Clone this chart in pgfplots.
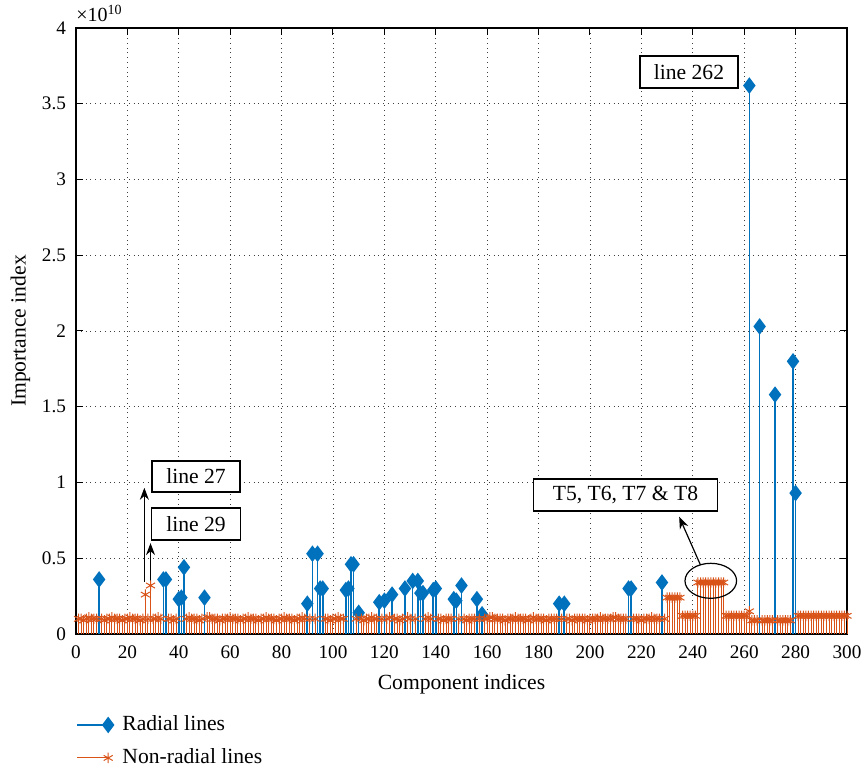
\documentclass[border=0pt]{standalone}
\usepackage{fontspec}
\setmainfont{Liberation Serif}
\usepackage{pgfplots}
\pgfplotsset{compat=1.18}
\usetikzlibrary{arrows.meta}
\definecolor{mblue}{rgb}{0,0.447,0.741}
\definecolor{morange}{rgb}{0.85,0.325,0.098}
\pgfplotsset{endmark/.style={legend image code/.code={\draw[##1, sharp plot, mark repeat=2, mark phase=2] plot coordinates {(0pt,0pt) (15.5pt,0pt)};}}}
\begin{document}
\begin{tikzpicture}
\begin{axis}[
  scale only axis, width=385.5pt, height=303pt,
  xmin=0, xmax=300, ymin=0, ymax=4,
  xtick={0,20,...,300},
  ytick={0,0.5,1,1.5,2,2.5,3,3.5,4},
  yticklabels={0,0.5,1,1.5,2,2.5,3,3.5,4},
  /pgf/number format/assume math mode=true,
  ticklabel style={font=\fontsize{9.6}{11}\selectfont},
  xticklabel shift=2.5pt, yticklabel shift=1.5pt,
  tick align=inside, major tick length=3.5pt,
  xtick pos=both, ytick pos=both,
  tick style={black, line width=0.5pt},
  axis line style={black, line width=0.6pt},
  grid=major, grid style={dotted, black!75, line width=0.45pt},
  xlabel={Component indices}, ylabel={Importance index},
  xlabel style={at={(axis description cs:0.5,-0.0825)}, anchor=center, font=\fontsize{10.8}{12}\selectfont},
  ylabel style={at={(axis description cs:-0.072,0.5)}, anchor=center, font=\fontsize{10.8}{12}\selectfont},
  legend style={at={(axis description cs:0.0,-0.128)}, anchor=north west, draw=none, fill=none,
    font=\fontsize{10.8}{12}\selectfont, row sep=3.5pt, column sep=2.5pt, inner sep=0pt},
  legend cell align=left,
  clip=false,
]
\addplot[ycomb, color=mblue, line width=0.8pt, mark=diamond*, mark size=3.5pt, mark options={solid, fill=mblue}, endmark]
coordinates {
(9,0.36) (34,0.36) (35,0.36) (40,0.23) (41,0.24) (42,0.44) (50,0.24)
(90,0.20) (92,0.53) (94,0.53) (95,0.30) (96,0.30) (105,0.29) (106,0.30) (107,0.46) (108,0.46)
(110,0.14) (118,0.21) (120,0.22) (123,0.26) (128,0.30) (131,0.35) (133,0.35) (134,0.27) (135,0.27)
(139,0.29) (140,0.30) (147,0.23) (148,0.22) (150,0.32) (156,0.23) (158,0.13)
(188,0.20) (190,0.20) (215,0.30) (216,0.30) (228,0.34)
(262,3.62) (266,2.03) (272,1.58) (279,1.80) (280,0.93)
};
\addlegendentry{Radial lines}
\addplot[ycomb, color=morange, line width=0.5pt, mark=asterisk, mark size=2.6pt, mark options={solid}, endmark]
coordinates {
(1,0.10) (2,0.10) (3,0.09) (4,0.10) (5,0.11) (6,0.10) (7,0.10) (8,0.10) (10,0.10) (11,0.09) (12,0.10)
(13,0.10) (14,0.11) (15,0.10) (16,0.10) (17,0.10) (18,0.09) (19,0.10) (20,0.10) (21,0.11) (22,0.10)
(23,0.10) (24,0.10) (25,0.09) (26,0.10) (27,0.26) (28,0.10) (29,0.32) (30,0.10) (31,0.10) (32,0.11) (33,0.10)
(36,0.10) (37,0.10) (38,0.09) (39,0.10)
(43,0.10) (44,0.11) (45,0.10) (46,0.10) (47,0.10) (48,0.09) (49,0.10)
(51,0.11) (52,0.11) (53,0.10) (54,0.10) (55,0.10) (56,0.09) (57,0.10) (58,0.10) (59,0.10) (60,0.11)
(61,0.10) (62,0.10) (63,0.10) (64,0.09) (65,0.10) (66,0.10) (67,0.11) (68,0.10) (69,0.10) (70,0.10)
(71,0.09) (72,0.10) (73,0.10) (74,0.11) (75,0.10) (76,0.10) (77,0.10) (78,0.09) (79,0.10) (80,0.10)
(81,0.11) (82,0.10) (83,0.10) (84,0.10) (85,0.09) (86,0.10) (87,0.10) (88,0.11) (89,0.10)
(91,0.10) (93,0.10)
(97,0.10) (98,0.10) (99,0.09) (100,0.10) (101,0.10) (102,0.11) (103,0.10) (104,0.10)
(109,0.10)
(111,0.10) (112,0.09) (113,0.10) (114,0.10) (115,0.11) (116,0.10) (117,0.10)
(119,0.10) (121,0.10) (122,0.11)
(124,0.10) (125,0.10) (126,0.09) (127,0.10) (129,0.11) (130,0.10) (132,0.10)
(136,0.10) (137,0.11) (138,0.10)
(141,0.10) (142,0.10) (143,0.09) (144,0.10) (145,0.10) (146,0.10) (149,0.10)
(151,0.10) (152,0.09) (153,0.10) (154,0.10) (155,0.10) (157,0.10)
(159,0.10) (160,0.10) (161,0.11) (162,0.11) (163,0.10) (164,0.10) (165,0.10) (166,0.10) (167,0.09)
(168,0.10) (169,0.10) (170,0.10) (171,0.11) (172,0.10) (173,0.10) (174,0.10) (175,0.10) (176,0.09)
(177,0.10) (178,0.11) (179,0.10) (180,0.10) (181,0.10) (182,0.10) (183,0.09) (184,0.10) (185,0.10)
(186,0.10) (187,0.10) (189,0.10)
(191,0.10) (192,0.10) (193,0.09) (194,0.10) (195,0.10) (196,0.10) (197,0.10) (198,0.10) (199,0.09)
(200,0.10) (201,0.10) (202,0.10) (203,0.10) (204,0.11) (205,0.10) (206,0.10) (207,0.10) (208,0.10)
(209,0.11) (210,0.11) (211,0.10) (212,0.10) (213,0.10) (214,0.10)
(217,0.10) (218,0.10) (219,0.10) (220,0.09) (221,0.10) (222,0.10) (223,0.10) (224,0.11) (225,0.10)
(226,0.10) (227,0.10) (229,0.10)
(230,0.24) (231,0.24) (232,0.24) (233,0.24) (234,0.24) (235,0.24)
(236,0.12) (237,0.12) (238,0.12) (239,0.12) (240,0.12) (241,0.12)
(242,0.34) (243,0.34) (244,0.34) (245,0.34) (246,0.34) (247,0.34) (248,0.34) (249,0.34) (250,0.34)
(251,0.34) (252,0.34)
(253,0.12) (254,0.12) (255,0.12) (256,0.12) (257,0.12) (258,0.12) (259,0.12) (260,0.12) (261,0.12)
(262,0.15)
(263,0.09) (264,0.09) (265,0.09) (267,0.09) (268,0.09) (269,0.09) (270,0.09) (271,0.09)
(273,0.09) (274,0.09) (275,0.09) (276,0.09) (277,0.09) (278,0.09)
(281,0.12) (282,0.12) (283,0.12) (284,0.12) (285,0.12) (286,0.12) (287,0.12) (288,0.12) (289,0.12)
(290,0.12) (291,0.12) (292,0.12) (293,0.12) (294,0.12) (295,0.12) (296,0.12) (297,0.12) (298,0.12)
(299,0.12) (300,0.12)
};
\addlegendentry{Non-radial lines}
% annotations
\node[draw=black, fill=white, line width=0.6pt, minimum width=49pt, minimum height=16pt, inner sep=1pt,
  font=\fontsize{10.8}{12}\selectfont] at (axis cs:238.5,3.71) {line 262};
\node[draw=black, fill=white, line width=0.6pt, minimum width=44pt, minimum height=15.5pt, inner sep=1pt,
  font=\fontsize{10.8}{12}\selectfont] at (axis cs:46.7,1.04) {line 27};
\node[draw=black, fill=white, line width=0.6pt, minimum width=44.5pt, minimum height=16pt, inner sep=1pt,
  font=\fontsize{10.8}{12}\selectfont] at (axis cs:46.7,0.726) {line 29};
\node[draw=black, fill=white, line width=0.6pt, minimum width=92pt, minimum height=16pt, inner sep=1pt,
  font=\fontsize{10.8}{12}\selectfont] at (axis cs:213.8,0.917) {T5, T6, T7 \& T8};
\draw[black, line width=0.6pt, -{Stealth[length=6pt,width=4.5pt]}] (axis cs:26.6,0.345) -- (axis cs:26.6,0.965);
\draw[black, line width=0.6pt, -{Stealth[length=6pt,width=4.5pt]}] (axis cs:29.0,0.345) -- (axis cs:29.0,0.60);
\draw[black, line width=0.6pt, -{Stealth[length=6pt,width=4.5pt]}] (axis cs:243.0,0.455) -- (axis cs:234.7,0.774);
\draw[black, line width=0.6pt] (axis cs:247,0.351) ellipse [x radius=12.9pt, y radius=8.75pt];
\node[anchor=south west, inner sep=0pt, font=\fontsize{10}{12}\selectfont] at ([shift={(0pt,3pt)}]rel axis cs:0,1) {×10\textsuperscript{10}};
\coordinate (SW) at (rel axis cs:0,0);
\coordinate (NE) at (rel axis cs:1,1);
\end{axis}
\pgfresetboundingbox
\useasboundingbox ([shift={(-38pt,-67.5pt)}]SW) rectangle ([shift={(7.5pt,14pt)}]NE);
\end{tikzpicture}
\end{document}
